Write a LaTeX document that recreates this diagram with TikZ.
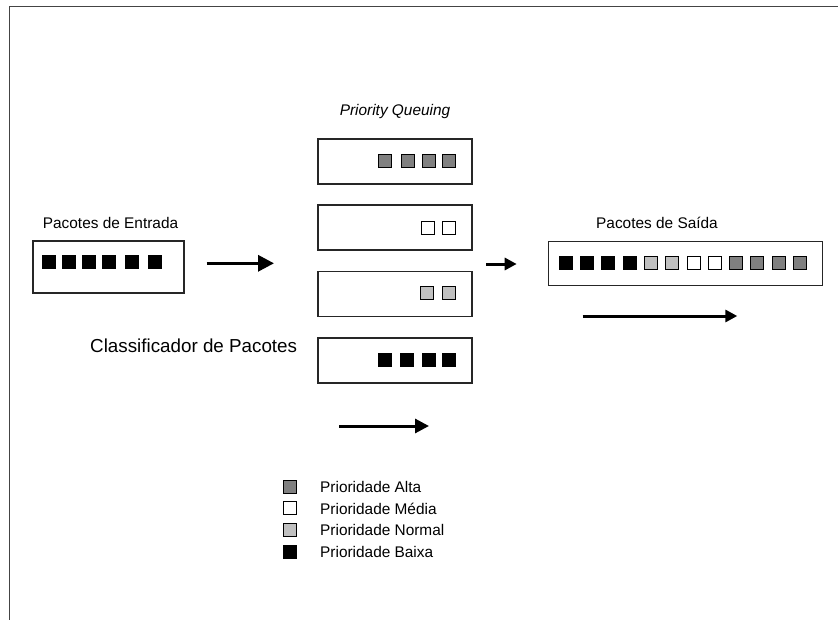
\documentclass[tikz,border=0pt]{standalone}
\usepackage{fontspec}
\setmainfont{Liberation Sans}
\usetikzlibrary{arrows.meta}

\definecolor{hiprio}{HTML}{808080}
\definecolor{normprio}{HTML}{C0C0C0}
\definecolor{frameline}{HTML}{444444}

\tikzset{
  txt/.style={anchor=base west, inner sep=0pt, font=\fontsize{15.4bp}{18bp}\selectfont},
  bigtxt/.style={anchor=base west, inner sep=0pt, font=\fontsize{18.8bp}{22bp}\selectfont},
  queuebox/.style={draw=black!85, line width=1.2bp, fill=white, rectangle, inner sep=0pt},
  pkt/.style={draw=black, line width=1bp, rectangle, inner sep=0pt, minimum size=13bp},
  alta/.style={pkt, fill=hiprio},
  media/.style={pkt, fill=white},
  normal/.style={pkt, fill=normprio},
  baixa/.style={pkt, fill=black},
  flow/.style={line width=3bp, -{Triangle[length=#1, width=#1]}},
}

\begin{document}
\begin{tikzpicture}[x=1bp, y=-1bp]
  \useasboundingbox (0,0) rectangle (838,620);

  % page frame (top and left edges)
  \draw[frameline, line width=1.8bp] (838,6.5) -- (9.5,6.5) -- (9.5,620);

  % input queue
  \node[txt] (lblin) at (42.7,228.3) {Pacotes de Entrada};
  \node[queuebox, minimum width=151bp, minimum height=52bp] (inbox) at (108.5,267) {};
  \foreach \x [count=\i] in {49.3,69,89,109,132.3,155}
    \node[baixa] (in\i) at (\x,262.3) {};

  \coordinate (a1s) at (206.7,263.3);
  \coordinate (a1e) at (274,263.3);
  \draw[flow=16bp, line width=3.2bp] (a1s) -- (a1e);

  % priority queues
  \node[txt, anchor=base, font=\fontsize{15.4bp}{18bp}\selectfont\itshape] (lblpq) at (395,116) {Priority Queuing};

  \node[queuebox, minimum width=154bp, minimum height=45bp] (qa) at (395,161.5) {};
  \node[queuebox, minimum width=154bp, minimum height=45bp] (qm) at (395,227.5) {};
  \node[queuebox, minimum width=154bp, minimum height=45bp] (qn) at (395,294) {};
  \node[queuebox, minimum width=154bp, minimum height=45bp] (qb) at (395,360.5) {};

  \foreach \x [count=\i] in {385,407.7,429,449}
    \node[alta] (qa\i) at (\x,161.3) {};
  \foreach \x [count=\i] in {427.7,449}
    \node[media] (qm\i) at (\x,227.7) {};
  \foreach \x [count=\i] in {427.3,449}
    \node[normal] (qn\i) at (\x,293.3) {};
  \foreach \x [count=\i] in {385,406.7,429,449}
    \node[baixa] (qb\i) at (\x,360.3) {};

  \node[bigtxt] (lblcls) at (90,352) {Classificador de Pacotes};

  \coordinate (a2s) at (339.3,426);
  \coordinate (a2e) at (429,426);
  \draw[flow=14bp] (a2s) -- (a2e);

  \coordinate (a3s) at (486,264);
  \coordinate (a3e) at (516.7,264);
  \draw[flow=12bp] (a3s) -- (a3e);

  % output queue
  \node[txt] (lblout) at (596,228.3) {Pacotes de Saída};
  \node[queuebox, minimum width=274.4bp, minimum height=44bp] (outbox) at (685.5,263.7) {};
  \foreach \c [count=\i from 0] in {baixa,baixa,baixa,baixa,normal,normal,media,media,alta,alta,alta,alta}
    \node[\c] (out\i) at ({565.7+21.3*\i},263.3) {};

  \coordinate (a4s) at (582.7,316);
  \coordinate (a4e) at (737.3,316);
  \draw[flow=12bp] (a4s) -- (a4e);

  % legend
  \node[alta]   (kalta) at (290,486.7) {};
  \node[media]  (kmed)  at (290,508.3) {};
  \node[normal] (knorm) at (290,529.7) {};
  \node[baixa]  (kbaix) at (290,552.2) {};
  \node[txt] (talta) at (320,492.7) {Prioridade Alta};
  \node[txt] (tmed)  at (320,514.3) {Prioridade Média};
  \node[txt] (tnorm) at (320,535.3) {Prioridade Normal};
  \node[txt] (tbaix) at (320,557.3) {Prioridade Baixa};
\end{tikzpicture}
\end{document}
